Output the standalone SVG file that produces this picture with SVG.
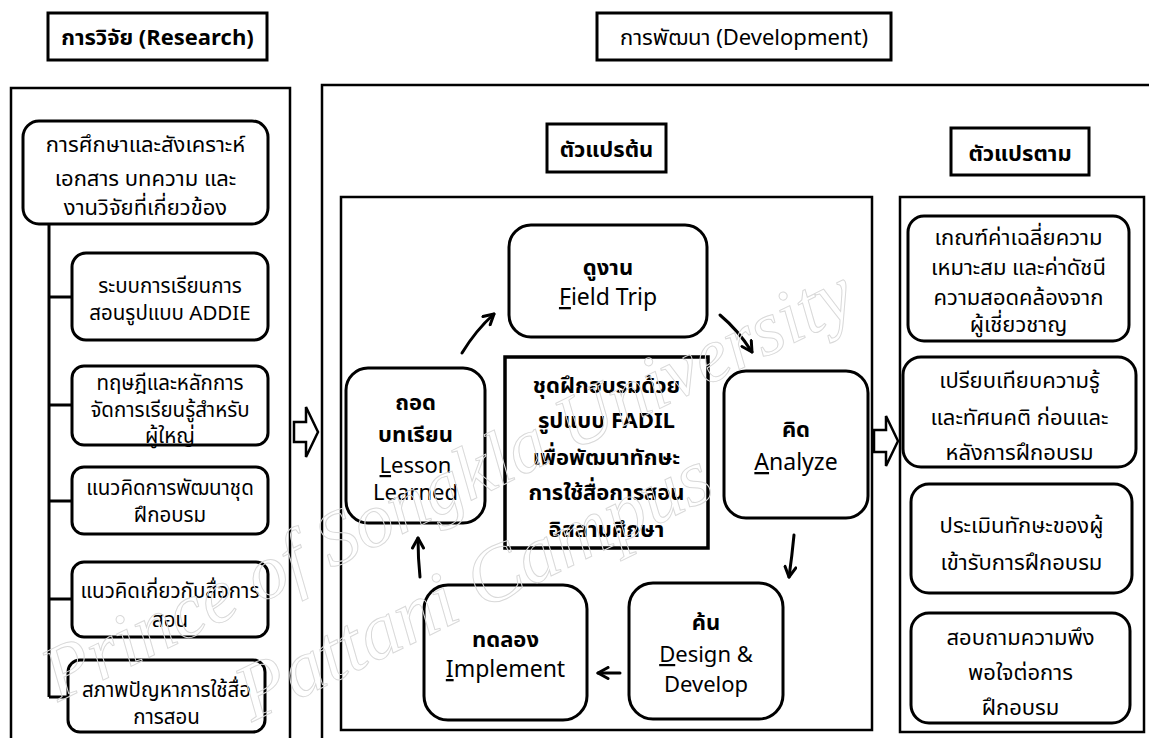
<svg xmlns="http://www.w3.org/2000/svg" width="1149" height="738" viewBox="0 0 1149 738">
<style>
  text { font-family: "Noto Sans Thai", "Noto Sans", "Tahoma", "DejaVu Sans", sans-serif; fill: #000; text-anchor: middle; }
  .frame { fill: none; stroke: #000; stroke-width: 2.5; }
  .hdr { fill: #fff; stroke: #000; stroke-width: 3; }
  .rbox { fill: #fff; stroke: #000; stroke-width: 3; }
  .t20 { font-size: 20.5px; }
  .t22 { font-size: 22px; }
  .t23 { font-size: 23px; }
  .b { font-weight: bold; }
  .ln { fill: none; stroke: #000; stroke-width: 3; }
  .arr { fill: none; stroke: #000; stroke-width: 3; stroke-linecap: round; stroke-linejoin: round; }
  .hollow { fill: #fff; stroke: #000; stroke-width: 2.5; stroke-linejoin: miter; }
  .wm { font-family: "Liberation Serif", serif; font-style: italic; fill: none; stroke: #d9d9d9; stroke-width: 1; text-anchor: start; }
  .u { text-decoration: underline; }
</style>
<defs>
  <marker id="head" viewBox="0 0 14 14" refX="12" refY="7" markerWidth="14" markerHeight="14" markerUnits="userSpaceOnUse" orient="auto">
    <path d="M2,1.5 L12,7 L2,12.5" fill="none" stroke="#000" stroke-width="3" stroke-linecap="round" stroke-linejoin="round"/>
  </marker>
</defs>
<rect width="1149" height="738" fill="#fff"/>

<!-- headers -->
<g id="hdr-research">
  <rect class="hdr" x="48" y="13" width="219" height="47"/>
  <text class="t22 b" x="157.5" y="45">การวิจัย (Research)</text>
</g>
<g id="hdr-development">
  <rect class="hdr" x="597" y="13" width="294" height="47"/>
  <text class="t22" x="744" y="45">การพัฒนา (Development)</text>
</g>

<!-- frames -->
<g id="frame-research"><path class="frame" d="M11,745 V88 H290 V745"/></g>
<g id="frame-development"><path class="frame" d="M322,745 V85 H1152"/></g>
<g id="frame-independent"><rect class="frame" x="341" y="197" width="531" height="533"/></g>
<g id="frame-dependent"><rect class="frame" x="900" y="197" width="244" height="535"/></g>

<g id="lbl-independent">
  <rect class="hdr" x="547" y="124" width="119" height="48"/>
  <text class="t22 b" x="606.5" y="157">ตัวแปรต้น</text>
</g>
<g id="lbl-dependent">
  <rect class="hdr" x="951" y="128" width="138" height="47"/>
  <text class="t22 b" x="1020" y="161">ตัวแปรตาม</text>
</g>

<!-- connectors -->
<g id="connectors">
  <path class="ln" d="M49,224 V697 M49,297 H72 M49,405 H72 M49,501 H72 M49,599 H72 M49,697 H68"/>
  <path class="hollow" d="M294,422 H306 V407 L318,432 L306,457 V442 H294 Z"/>
  <path class="hollow" d="M874,430 H886 V416 L898,441 L886,466 V452 H874 Z"/>
  <path class="arr" marker-end="url(#head)" d="M462,353 Q476,330 494,314"/>
  <path class="arr" marker-end="url(#head)" d="M720,315 Q738,330 752,352"/>
  <path class="arr" marker-end="url(#head)" d="M794,535 Q792,556 789,577"/>
  <path class="arr" marker-end="url(#head)" d="M620,673 L598,673"/>
  <path class="arr" marker-end="url(#head)" d="M420,577 Q418,558 418,538"/>
</g>

<!-- research nodes -->
<g id="n-review">
  <rect class="rbox" x="23" y="121" width="245" height="103" rx="16"/>
  <text class="t22" x="145.5" y="152">การศึกษาและสังเคราะห์</text>
  <text class="t22" x="145.5" y="186">เอกสาร บทความ และ</text>
  <text class="t22" x="145.5" y="215">งานวิจัยที่เกี่ยวข้อง</text>
</g>
<g id="n-addie">
  <rect class="rbox" x="72" y="253" width="196" height="87" rx="14"/>
  <text class="t20" x="170" y="293">ระบบการเรียนการ</text>
  <text class="t20" x="170" y="320">สอนรูปแบบ ADDIE</text>
</g>
<g id="n-adult">
  <rect class="rbox" x="72" y="366" width="196" height="79" rx="12"/>
  <text class="t20" x="170" y="390">ทฤษฎีและหลักการ</text>
  <text class="t20" x="170" y="417">จัดการเรียนรู้สำหรับ</text>
  <text class="t20" x="170" y="443">ผู้ใหญ่</text>
</g>
<g id="n-trainkit">
  <rect class="rbox" x="72" y="467" width="196" height="67" rx="12"/>
  <text class="t20" x="170" y="495">แนวคิดการพัฒนาชุด</text>
  <text class="t20" x="170" y="522">ฝึกอบรม</text>
</g>
<g id="n-media">
  <rect class="rbox" x="72" y="562" width="196" height="75" rx="12"/>
  <text class="t20" x="170" y="598">แนวคิดเกี่ยวกับสื่อการ</text>
  <text class="t20" x="170" y="627">สอน</text>
</g>
<g id="n-problem">
  <rect class="rbox" x="68" y="660" width="197" height="72" rx="12"/>
  <text class="t20" x="166.5" y="697">สภาพปัญหาการใช้สื่อ</text>
  <text class="t20" x="166.5" y="724">การสอน</text>
</g>

<!-- cycle nodes -->
<g id="n-fieldtrip">
  <rect class="rbox" x="509" y="225" width="198" height="112" rx="22"/>
  <text class="t22 b" x="608" y="275">ดูงาน</text>
  <text class="t23" x="608" y="305"><tspan class="u">F</tspan>ield Trip</text>
</g>
<g id="n-lesson">
  <rect class="rbox" x="346" y="368" width="139" height="155" rx="22"/>
  <text class="t22 b" x="415.5" y="410">ถอด</text>
  <text class="t22 b" x="415.5" y="442">บทเรียน</text>
  <text class="t22" x="415.5" y="473"><tspan class="u">L</tspan>esson</text>
  <text class="t22" x="415.5" y="500">Learned</text>
</g>
<g id="n-fadil">
  <rect x="505" y="357" width="203" height="191" fill="#fff" stroke="#000" stroke-width="3.5"/>
  <text class="t22 b" x="606.5" y="393">ชุดฝึกอบรมด้วย</text>
  <text class="t22 b" x="606.5" y="428">รูปแบบ FADIL</text>
  <text class="t22 b" x="606.5" y="465">เพื่อพัฒนาทักษะ</text>
  <text class="t22 b" x="606.5" y="500">การใช้สื่อการสอน</text>
  <text class="t22 b" x="606.5" y="537">อิสลามศึกษา</text>
</g>
<g id="n-analyze">
  <rect class="rbox" x="724" y="371" width="144" height="147" rx="22"/>
  <text class="t22 b" x="796" y="437">คิด</text>
  <text class="t23" x="796" y="470"><tspan class="u">A</tspan>nalyze</text>
</g>
<g id="n-design">
  <rect class="rbox" x="629" y="583" width="154" height="136" rx="24"/>
  <text class="t22 b" x="706" y="630">ค้น</text>
  <text class="t22" x="706" y="662"><tspan class="u">D</tspan>esign &amp;</text>
  <text class="t22" x="706" y="692">Develop</text>
</g>
<g id="n-implement">
  <rect class="rbox" x="424" y="585" width="163" height="135" rx="24"/>
  <text class="t22 b" x="505.5" y="647">ทดลอง</text>
  <text class="t23" x="505.5" y="677"><tspan class="u">I</tspan>mplement</text>
</g>

<!-- dependent nodes -->
<g id="n-criteria">
  <rect class="rbox" x="908" y="216" width="221" height="125" rx="16"/>
  <text class="t22" x="1018.5" y="245">เกณฑ์ค่าเฉลี่ยความ</text>
  <text class="t22" x="1018.5" y="275">เหมาะสม และค่าดัชนี</text>
  <text class="t22" x="1018.5" y="305">ความสอดคล้องจาก</text>
  <text class="t22" x="1018.5" y="332">ผู้เชี่ยวชาญ</text>
</g>
<g id="n-compare">
  <rect class="rbox" x="903" y="357" width="233" height="110" rx="18"/>
  <text class="t22" x="1019.5" y="388">เปรียบเทียบความรู้</text>
  <text class="t22" x="1019.5" y="425">และทัศนคติ ก่อนและ</text>
  <text class="t22" x="1019.5" y="460">หลังการฝึกอบรม</text>
</g>
<g id="n-assess">
  <rect class="rbox" x="911" y="484" width="221" height="109" rx="18"/>
  <text class="t22" x="1021.5" y="533">ประเมินทักษะของผู้</text>
  <text class="t22" x="1021.5" y="570">เข้ารับการฝึกอบรม</text>
</g>
<g id="n-survey">
  <rect class="rbox" x="911" y="613" width="219" height="110" rx="18"/>
  <text class="t22" x="1020.5" y="645">สอบถามความพึง</text>
  <text class="t22" x="1020.5" y="680">พอใจต่อการ</text>
  <text class="t22" x="1020.5" y="715">ฝึกอบรม</text>
</g>

<!-- watermark -->
<g id="watermark">
  <text class="wm" font-size="77" transform="translate(58,702) rotate(-26)">Prince of Songkla University</text>
  <text class="wm" font-size="80" transform="translate(252,722) rotate(-26)">Pattani Campus</text>
</g>
</svg>
